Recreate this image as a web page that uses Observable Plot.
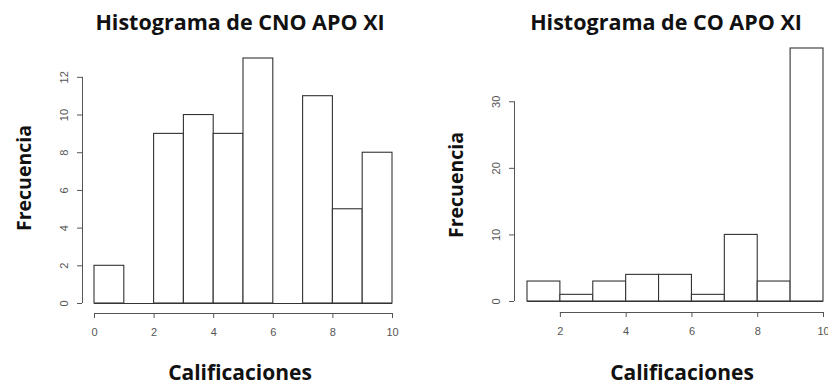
<!DOCTYPE html>
<html>
<head>
<meta charset="utf-8">
<script src="https://cdn.jsdelivr.net/npm/d3@7"></script>
<script src="https://cdn.jsdelivr.net/npm/@observablehq/plot@0.6"></script>
<style>
  body { margin: 0; background: #fff; }
  #wrap { position: relative; width: 828px; height: 385px; overflow: hidden; background: #fff; }
  #wrap svg { position: absolute; top: 0; }
  .lbl { position: absolute; font-family: "Open Sans", sans-serif; font-weight: 700; color: #111; white-space: nowrap; line-height: 1; transform: translate(-50%, -50%); }
  .title { font-size: 21.5px; }
  .axl { font-size: 21px; }
  .rot { font-size: 19.5px; transform: translate(-50%, -50%) rotate(-90deg); }
</style>
</head>
<body>
<div id="wrap">
  <div class="lbl title" style="left:240px; top:22px;">Histograma de CNO APO XI</div>
  <div class="lbl title" style="left:666px; top:22px;">Histograma de CO APO XI</div>
  <div class="lbl axl" style="left:240px; top:372px;">Calificaciones</div>
  <div class="lbl axl" style="left:682px; top:372px;">Calificaciones</div>
  <div class="lbl rot" style="left:24px; top:178px;">Frecuencia</div>
  <div class="lbl rot" style="left:456px; top:185px;">Frecuencia</div>
</div>
<script>
// Left histogram: CNO APO XI
const cnoBinStarts = [0, 1, 2, 3, 4, 5, 6, 7, 8, 9];
const cnoCounts    = [2, 0, 9, 10, 9, 13, 0, 11, 5, 8];
const cnoXTicks    = [0, 2, 4, 6, 8, 10];
const cnoYTicks    = [0, 2, 4, 6, 8, 10, 12];

// Right histogram: CO APO XI
const coBinStarts = [1, 2, 3, 4, 5, 6, 7, 8, 9];
const coCounts    = [3, 1, 3, 4, 4, 1, 10, 3, 38];
const coXTicks    = [2, 4, 6, 8, 10];
const coYTicks    = [0, 10, 20, 30];

const binWidth = 1;

function hist({starts, counts, xTicks, yTicks, xDomain, yDomain, marginLeft, marginRight, marginTop, marginBottom, insetLeft, insetBottom}) {
  const data = starts.map((s, i) => ({x1: s, x2: s + binWidth, count: counts[i]}));
  const axisColor = "#555";
  return Plot.plot({
    width: 414,
    height: 385,
    marginLeft, marginRight, marginTop, marginBottom,
    insetLeft, insetBottom,
    x: {domain: xDomain},
    y: {domain: yDomain},
    style: {fontFamily: "'Liberation Sans', Arial, sans-serif", background: "white"},
    marks: [
      Plot.ruleY([0], {x1: starts[0], x2: starts[starts.length - 1] + binWidth, stroke: "#333", strokeWidth: 1.1}),
      Plot.rectY(data, {x1: "x1", x2: "x2", y: "count", fill: "white", stroke: "#333", strokeWidth: 1.1}),
      Plot.ruleY([0], {x1: xTicks[0], x2: xTicks[xTicks.length - 1], dy: insetBottom, stroke: axisColor}),
      Plot.ruleX([xDomain[0]], {y1: yTicks[0], y2: yTicks[yTicks.length - 1], dx: -insetLeft, stroke: axisColor}),
      Plot.axisX(xTicks, {tickSize: 5, tickPadding: 10, fontSize: 11, color: axisColor, label: null}),
      Plot.axisY(yTicks, {tickSize: 5, tickPadding: 10, tickRotate: -90, fontSize: 11, color: axisColor, label: null})
    ]
  });
}

const left = hist({
  starts: cnoBinStarts, counts: cnoCounts, xTicks: cnoXTicks, yTicks: cnoYTicks,
  xDomain: [0, 10], yDomain: [0, 13],
  marginLeft: 82, marginRight: 22, marginTop: 58, marginBottom: 72, insetLeft: 12, insetBottom: 10
});
left.style.left = "0px";

const right = hist({
  starts: coBinStarts, counts: coCounts, xTicks: coXTicks, yTicks: coYTicks,
  xDomain: [1, 10], yDomain: [0, 38],
  marginLeft: 100, marginRight: 5, marginTop: 48, marginBottom: 73, insetLeft: 13, insetBottom: 11
});
right.style.left = "414px";

const wrap = document.getElementById("wrap");
wrap.insertBefore(left, wrap.firstChild);
wrap.insertBefore(right, wrap.firstChild);
</script>
</body>
</html>
